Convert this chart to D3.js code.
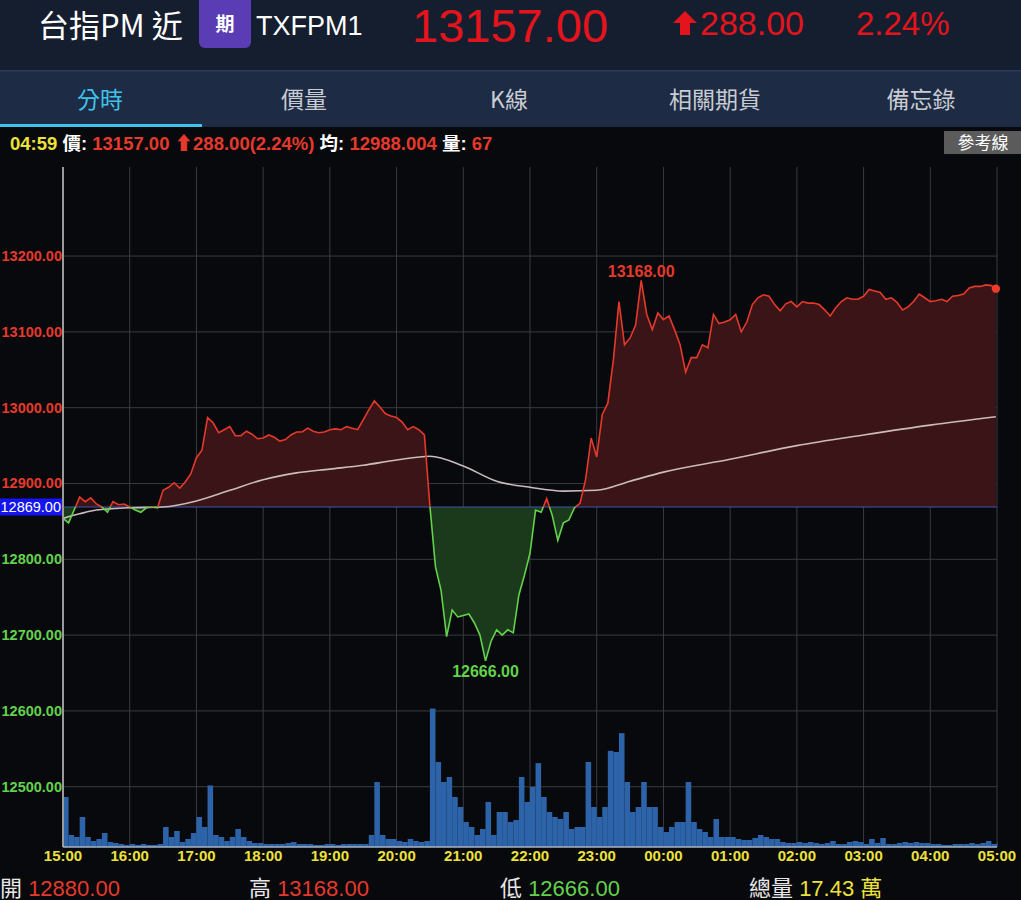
<!DOCTYPE html>
<html><head><meta charset="utf-8">
<script src="https://cdn.jsdelivr.net/npm/d3@7"></script>
<style>
html,body{margin:0;padding:0;background:#08090d;overflow:hidden}
svg{display:block}
text{font-family:"Liberation Sans","Noto Sans CJK TC",sans-serif}
.cjk{font-family:"Noto Sans CJK TC",sans-serif}
.narrow{font-family:"Liberation Sans Narrow","Liberation Sans","Noto Sans CJK TC",sans-serif}
</style></head>
<body>
<script>
// ---------- data ----------
const refPrice = 12869;
const openPrice = 12880, highPrice = 13168, lowPrice = 12666, lastPrice = 13157;
const change = 288.00, changePct = "2.24%", avgLast = "12988.004", lastVol = 67, totalVol = "17.43";
const timeLabels = ["15:00","16:00","17:00","18:00","19:00","20:00","21:00","22:00","23:00","00:00","01:00","02:00","03:00","04:00","05:00"];
const yTickValues = [12500,12600,12700,12800,12900,13000,13100,13200];
const tabs = ["分時","價量","K線","相關期貨","備忘錄"];
// 5-minute closes (minute 0 = 15:00, last point = 04:59)
const prices = [
12854,12848,12865,12882,12876,12881,12873,12869,12862,12876,
12872,12873,12869,12865,12862,12868,12869,12868,12891,12895,
12901,12894,12902,12913,12934,12944,12987,12980,12967,12971,
12975,12963,12963,12969,12965,12959,12960,12964,12961,12956,
12958,12964,12968,12968,12973,12969,12967,12968,12971,12972,
12971,12975,12973,12971,12984,12997,13009,13001,12992,12989,
12987,12981,12971,12975,12971,12964,12870,12790,12759,12698,
12733,12724,12726,12728,12716,12700,12666,12692,12707,12700,
12707,12703,12753,12779,12808,12865,12862,12880,12858,12825,
12848,12852,12868,12874,12905,12960,12935,12991,13006,13063,
13140,13083,13092,13109,13168,13123,13103,13125,13116,13121,
13103,13083,13047,13066,13066,13083,13079,13123,13111,13113,
13116,13123,13100,13113,13136,13145,13149,13147,13136,13128,
13137,13140,13133,13140,13138,13138,13136,13129,13121,13132,
13140,13145,13143,13143,13147,13156,13154,13152,13143,13145,
13139,13129,13133,13140,13150,13145,13140,13141,13143,13140,
13147,13148,13150,13158,13160,13160,13162,13161,13157];
const volumes = [
650,156,130,390,130,78,104,182,65,52,
39,26,39,26,39,26,26,39,260,130,
208,65,104,182,390,260,800,156,130,78,
130,234,130,78,52,52,39,39,39,39,
52,65,39,39,39,26,26,39,39,26,
39,39,39,39,39,156,845,156,104,104,
78,65,104,78,65,78,1800,1105,845,910,
650,520,325,260,156,234,585,156,455,455,
325,351,910,585,780,1090,650,455,390,364,
455,234,260,260,1105,520,390,520,1250,1235,
1480,845,455,520,845,520,520,260,195,260,
325,325,845,325,234,195,130,364,130,130,
130,104,91,91,117,156,130,104,104,65,
52,52,65,52,65,52,39,52,78,39,
39,65,78,65,39,104,52,117,39,39,
52,65,52,65,52,52,39,39,26,26,
39,39,39,52,39,52,78,39,65];
const avgMinutes = [0,15,30,60,90,120,150,180,210,240,270,300,330,360,390,420,450,480,510,540,600,660,720,780,839];
const avgValues  = [12854,12860,12865,12868,12869,12877,12891,12905,12914,12919,12924,12931,12936,12923,12903,12895,12890,12891,12903,12915,12932,12950,12964,12977,12988];

// ---------- layout ----------
const W = 1021, H = 900;
const L = 63, R = 997, T = 167, B = 847;
const RED = "#e5392b", GREEN = "#62d24c", YEL = "#ece23a";
const svg = d3.select("body").append("svg").attr("width", W).attr("height", H);

// header
svg.append("rect").attr("x",0).attr("y",0).attr("width",W).attr("height",70).attr("fill","#151e2f");
svg.append("text").attr("class","cjk").attr("x",38).attr("y",37).attr("fill","#fff").attr("font-size",31).text("台指PM 近");
svg.append("rect").attr("x",199).attr("y",-6).attr("width",52).attr("height",54).attr("rx",6).attr("fill","#5a3db4");
svg.append("text").attr("class","cjk").attr("x",225).attr("y",31).attr("text-anchor","middle").attr("fill","#fff").attr("font-size",19).attr("font-weight",700).text("期");
svg.append("text").attr("x",256).attr("y",35).attr("fill","#fff").attr("font-size",27).text("TXFPM1");
svg.append("text").attr("x",412).attr("y",42).attr("fill","#e3141b").attr("font-size",47).text(lastPrice.toFixed(2));
// up arrow
svg.append("path").attr("d","M685,11 L697,23 L690,23 L690,35 L680,35 L680,23 L673,23 Z").attr("fill","#e3141b");
svg.append("text").attr("x",700).attr("y",35).attr("fill","#e3141b").attr("font-size",34).text(change.toFixed(2));
svg.append("text").attr("x",856).attr("y",35).attr("fill","#e3141b").attr("font-size",33).text(changePct);

// tab bar
svg.append("rect").attr("x",0).attr("y",70).attr("width",W).attr("height",57).attr("fill","#1d2b45");
svg.append("rect").attr("x",0).attr("y",70).attr("width",W).attr("height",1.5).attr("fill","#2a3a58");
const tabX = [100,304,509,715,921];
tabs.forEach((t,i)=>{
  svg.append("text").attr("class","cjk").attr("x",tabX[i]).attr("y",108).attr("text-anchor","middle")
    .attr("fill", i===0 ? "#3fc3ea" : "#c9ccd2").attr("font-size",23).text(t);
});
svg.append("rect").attr("x",0).attr("y",124).attr("width",202).attr("height",3).attr("fill","#3fc3ea");

// info line
const info = svg.append("text").attr("class","narrow").attr("x",10).attr("y",150).attr("font-size",18.5).attr("font-weight",700);
info.append("tspan").attr("fill",YEL).text("04:59 ");
info.append("tspan").attr("fill","#fff").text("價: ");
info.append("tspan").attr("fill",RED).text(lastPrice.toFixed(2)+" ⬆"+change.toFixed(2)+"("+changePct+") ");
info.append("tspan").attr("fill","#fff").text("均: ");
info.append("tspan").attr("fill",RED).text(avgLast+" ");
info.append("tspan").attr("fill","#fff").text("量: ");
info.append("tspan").attr("fill",RED).text(lastVol);
svg.append("rect").attr("x",944).attr("y",131).attr("width",77).attr("height",23).attr("fill","#5b5b5b");
svg.append("text").attr("class","cjk").attr("x",983).attr("y",149).attr("text-anchor","middle").attr("fill","#fff").attr("font-size",17).text("參考線");

// ---------- scales ----------
const maxDev = d3.max(prices, p => Math.abs(p - refPrice));
const span = maxDev * 1.5;
const x = d3.scaleLinear().domain([0, 840]).range([L, R]);
const y = d3.scaleLinear().domain([refPrice - span, refPrice + span]).range([B, T]);
const yv = d3.scaleLinear().domain([0, 1820]).range([B, B - 140]);
const minuteOf = i => Math.min(i * 5, 839);
const yRef = y(refPrice);

// grid
const g = svg.append("g");
g.selectAll("line.h").data(yTickValues).join("line")
  .attr("x1",L).attr("x2",R).attr("y1",d=>y(d)).attr("y2",d=>y(d))
  .attr("stroke","#3a3b42").attr("stroke-width",1);
g.selectAll("line.v").data(timeLabels.slice(1)).join("line")
  .attr("x1",(d,i)=>x((i+1)*60)).attr("x2",(d,i)=>x((i+1)*60)).attr("y1",T).attr("y2",B)
  .attr("stroke","#3a3b42").attr("stroke-width",1);

// volume bars
svg.append("g").selectAll("rect").data(volumes).join("rect")
  .attr("x",(d,i)=>x(i*5))
  .attr("width",(d,i)=>Math.max(0.5, Math.min(x(i*5+5), R) - x(i*5)))
  .attr("y",d=>yv(d)).attr("height",d=>B - yv(d))
  .attr("fill","#2d64a9");

// clip paths
const defs = svg.append("defs");
defs.append("clipPath").attr("id","above").append("rect").attr("x",0).attr("y",0).attr("width",W).attr("height",yRef);
defs.append("clipPath").attr("id","below").append("rect").attr("x",0).attr("y",yRef).attr("width",W).attr("height",H-yRef);

const area = d3.area().x((d,i)=>x(minuteOf(i))).y0(yRef).y1(d=>y(d));
const line = d3.line().x((d,i)=>x(minuteOf(i))).y(d=>y(d));
svg.append("path").datum(prices).attr("d",area).attr("fill","#3a1416").attr("clip-path","url(#above)");
svg.append("path").datum(prices).attr("d",area).attr("fill","#1b3a1b").attr("clip-path","url(#below)");

// reference line
svg.append("line").attr("x1",L).attr("x2",R).attr("y1",yRef).attr("y2",yRef).attr("stroke","#3f55b0").attr("stroke-width",1);

// average line
const avgLine = d3.line().x((d,i)=>x(avgMinutes[i])).y(d=>y(d)).curve(d3.curveMonotoneX);
svg.append("path").datum(avgValues).attr("d",avgLine).attr("fill","none").attr("stroke","#cbbcbc").attr("stroke-width",1.6);

// price line
svg.append("path").datum(prices).attr("d",line).attr("fill","none").attr("stroke",RED).attr("stroke-width",1.6).attr("clip-path","url(#above)");
svg.append("path").datum(prices).attr("d",line).attr("fill","none").attr("stroke",GREEN).attr("stroke-width",1.6).attr("clip-path","url(#below)");

// last point
const li = prices.length - 1;
svg.append("circle").attr("cx",x(minuteOf(li))).attr("cy",y(prices[li])).attr("r",4.2).attr("fill","#ec3a2c");

// high/low labels
const hi = prices.indexOf(d3.max(prices)), lo = prices.indexOf(d3.min(prices));
svg.append("text").attr("x",x(minuteOf(hi))).attr("y",y(prices[hi])-3).attr("text-anchor","middle")
  .attr("fill",RED).attr("font-size",16).attr("font-weight",700).text(highPrice.toFixed(2));
svg.append("text").attr("x",x(minuteOf(lo))).attr("y",y(prices[lo])+16).attr("text-anchor","middle")
  .attr("fill",GREEN).attr("font-size",16).attr("font-weight",700).text(lowPrice.toFixed(2));

// axes lines
svg.append("line").attr("x1",L).attr("x2",L).attr("y1",T).attr("y2",B).attr("stroke","#9a9a9a").attr("stroke-width",2);
svg.append("line").attr("x1",L).attr("x2",R).attr("y1",B).attr("y2",B).attr("stroke","#a9b3c2").attr("stroke-width",1.5);

// y tick labels
svg.append("g").selectAll("text").data(yTickValues).join("text")
  .attr("x",L-1).attr("y",d=>y(d)+5).attr("text-anchor","end")
  .attr("fill",d=> d > refPrice ? RED : GREEN).attr("font-size",14.5).attr("font-weight",700)
  .text(d=>d.toFixed(2));
svg.append("rect").attr("x",0).attr("y",yRef-8.5).attr("width",L-1).attr("height",17).attr("fill","#1414f0");
svg.append("text").attr("x",L-2).attr("y",yRef+5).attr("text-anchor","end").attr("fill","#fff")
  .attr("font-size",14.5).attr("font-weight",400).text(refPrice.toFixed(2));

// x tick labels
svg.append("g").selectAll("text").data(timeLabels).join("text")
  .attr("class","narrow").attr("x",(d,i)=>x(i*60)).attr("y",861).attr("text-anchor","middle")
  .attr("fill",YEL).attr("font-size",15).attr("font-weight",700).text(d=>d);

// bottom summary
const bt = [
  {x:0, label:"開", val:openPrice.toFixed(2), c:RED},
  {x:249, label:"高", val:highPrice.toFixed(2), c:RED},
  {x:500, label:"低", val:lowPrice.toFixed(2), c:GREEN},
  {x:749, label:"總量", val:totalVol, c:YEL, unit:"萬"}
];
bt.forEach(b=>{
  const t = svg.append("text").attr("class","narrow").attr("x",b.x).attr("y",896).attr("font-size",22);
  t.append("tspan").attr("fill","#e8e8e8").text(b.label+" ");
  t.append("tspan").attr("fill",b.c).text(b.val);
  if (b.unit) t.append("tspan").attr("fill",b.c).text(" "+b.unit);
});
</script>
</body></html>
